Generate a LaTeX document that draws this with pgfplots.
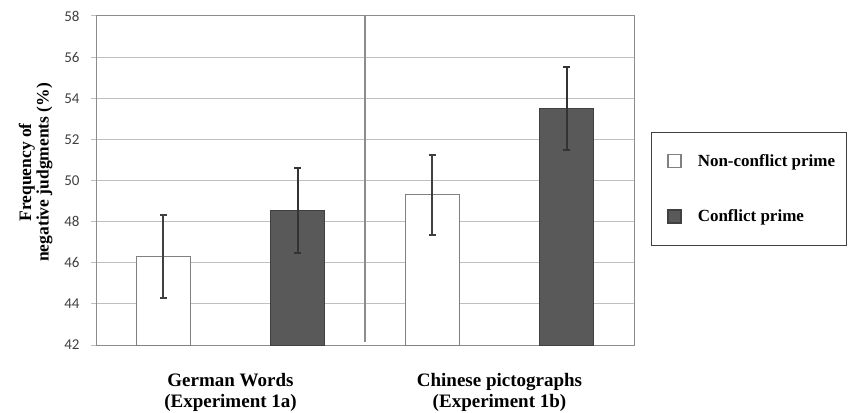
\documentclass[border=0pt]{standalone}
\usepackage{fontspec}
\setmainfont{Liberation Serif}
\newfontfamily\ticksfont{Carlito}
\usepackage{pgfplots}
\pgfplotsset{compat=1.18}
\definecolor{darkbar}{HTML}{595959}
\definecolor{gridc}{HTML}{BFBFBF}
\definecolor{axc}{HTML}{8C8C8C}
\definecolor{txt}{HTML}{404040}
\begin{document}
\begin{tikzpicture}[x=1pt,y=1pt]
\path[use as bounding box] (0,0) rectangle (850,412);
\begin{axis}[
  at={(96pt,67pt)}, anchor=south west,
  scale only axis, width=538pt, height=329pt,
  xmin=0, xmax=2, ymin=42, ymax=58,
  ytick={42,44,...,58},
  xtick={0.5,1.5},
  xticklabels={{German Words\\(Experiment 1a)},{Chinese pictographs\\(Experiment 1b)}},
  x tick label style={font=\fontsize{19}{21}\selectfont\bfseries, align=center, text=black},
  y tick label style={font=\ticksfont\fontsize{15}{16}\selectfont, text=txt, xshift=-8pt},
  /pgf/number format/assume math mode=true,
  x tick style={draw=none},
  y tick style={draw=gridc, line width=1pt},
  tick align=outside, major tick length=5pt,
  xtick pos=bottom, ytick pos=left,
  ymajorgrids, grid style={draw=gridc, line width=1pt},
  axis line style={draw=axc, line width=1pt},
  ylabel={Frequency of\\negative judgments (\%)},
  ylabel style={align=center, font=\fontsize{17.5}{17.5}\selectfont\bfseries, at={(ticklabel cs:0.543)}, yshift=5pt, xshift=-6pt},
  xticklabel style={yshift=-20pt},
  legend style={at={(1.0316,0.301)}, anchor=south west, draw=txt, line width=1pt,
    font=\fontsize{17}{17}\selectfont\bfseries, row sep=41pt,
    inner xsep=1pt, inner ysep=21.5pt, nodes={inner sep=0pt}, cells={anchor=west, inner xsep=0pt}, text depth=0pt},
  legend image code/.code={\path (0pt,0pt); \draw[#1, line width=1.5pt] (15pt,-6.5pt) rectangle (28pt,6.5pt);},
]
\draw[draw=axc, line width=1.5pt] (axis cs:1,42.15) -- (axis cs:1,58);
\addplot[ybar, bar width=0.2, bar shift=0pt, fill=white, draw=gray, line width=1pt,
  error bars/.cd, y dir=both, y explicit,
  error bar style={draw=txt, line width=2pt},
  error mark options={draw=txt, line width=2pt, mark size=3.5pt, rotate=90}]
  coordinates {(0.25,46.3) +- (0,2.0) (1.25,49.3) +- (0,1.95)};
\addlegendentry{\hspace{16pt}Non-conflict prime\rule{10pt}{0pt}}
\addplot[ybar, bar width=0.2, bar shift=0pt, fill=darkbar, draw=txt, line width=1pt,
  error bars/.cd, y dir=both, y explicit,
  error bar style={draw=txt!80!black, line width=2pt},
  error mark options={draw=txt!80!black, line width=2pt, mark size=3.5pt, rotate=90}]
  coordinates {(0.75,48.55) +- (0,2.07) (1.75,53.5) +- (0,2.0)};
\addlegendentry{\hspace{16pt}Conflict prime}
\end{axis}
\end{tikzpicture}
\end{document}
